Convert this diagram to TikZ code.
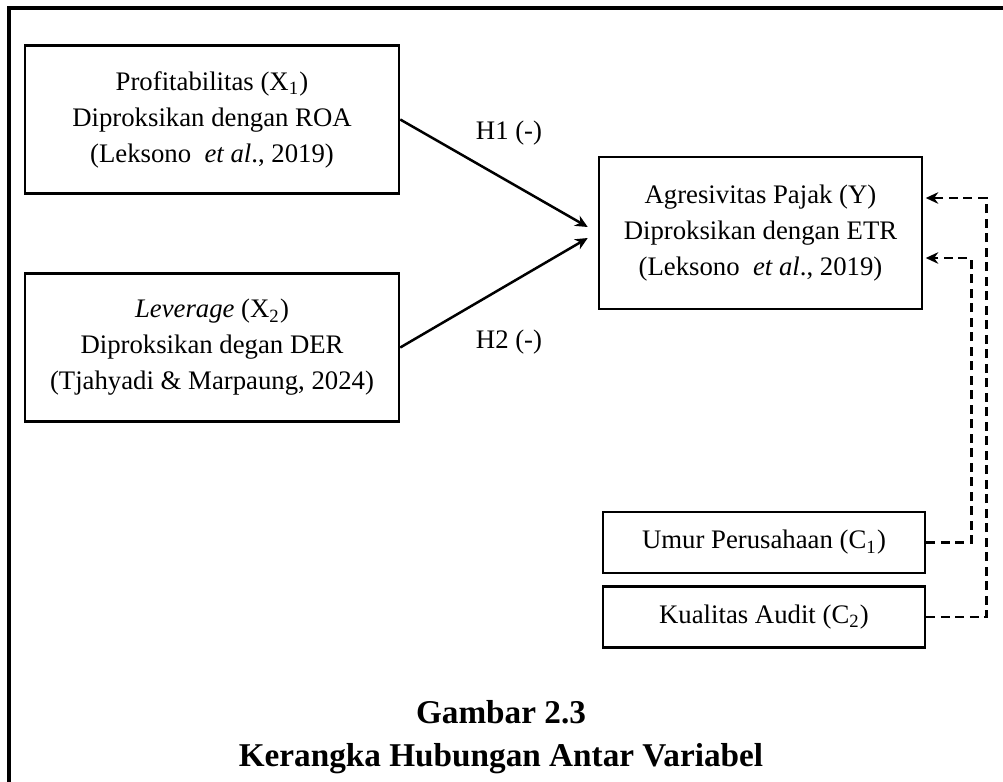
\documentclass[tikz,border=0pt]{standalone}
\usepackage{fontspec}
\setmainfont{Liberation Serif}
\usepackage{xcolor}
\usetikzlibrary{positioning, arrows.meta}

\begin{document}
\begin{tikzpicture}[x=0.4pt, y=-0.4pt, >={Stealth[length=5pt, width=4.6pt]}, line width=1pt,
  kotak/.style={draw, align=center, inner sep=0pt, font=\fontsize{10.7}{14.4}\selectfont},
  besar/.style={kotak, minimum width=149.6pt, minimum height=59.2pt},
  kecil/.style={kotak, minimum width=128.8pt, minimum height=24.4pt},
  putus/.style={dash pattern=on 3.5pt off 2.3pt},
  label/.style={font=\fontsize{10.7}{14.4}\selectfont}]
\useasboundingbox (0,0) rectangle (1003,782);
\draw[line width=1.4pt] (9,782) -- (9,8) -- (1003,8);

% Variabel
\node[besar] (x1) at (212,119.5) {Profitabilitas (X\textsubscript{1})\\Diproksikan dengan ROA\\(Leksono\ \ \textit{et al}., 2019)};
\node[besar, below=31pt of x1] (x2) {\textit{Leverage} (X\textsubscript{2})\\Diproksikan degan DER\\(Tjahyadi \& Marpaung, 2024)};
\node[kotak, minimum width=129.2pt, minimum height=60.8pt] (y) at (760.5,233) {Agresivitas Pajak (Y)\\Diproksikan dengan ETR\\(Leksono\ \ \textit{et al}., 2019)};
\node[kecil] (c1) at (764,542.5) {Umur Perusahaan (C\textsubscript{1})};
\node[kecil, below=4.4pt of c1] (c2) {Kualitas Audit (C\textsubscript{2})};

% Hubungan
\draw[->] (x1.east) -- ([yshift=2.4pt, xshift=-4pt]y.west) node[label, pos=0.58, above=11pt] {H1 (-)};
\draw[->] (x2.east) -- ([yshift=-2pt, xshift=-4pt]y.west) node[label, pos=0.58, below=14.5pt] {H2 (-)};
\draw[->, putus, shorten >=1pt] (c1.east) -- ++(45,0) |- ([yshift=-10pt]y.east);
\draw[->, putus, shorten >=1pt] (c2.east) -- ++(60,0) |- ([yshift=14pt]y.east);

% Judul
\node[font=\bfseries\fontsize{13.3}{17.2}\selectfont, align=center] (judul) at (501,737) {Gambar 2.3\\Kerangka Hubungan Antar Variabel};
\end{tikzpicture}
\end{document}
